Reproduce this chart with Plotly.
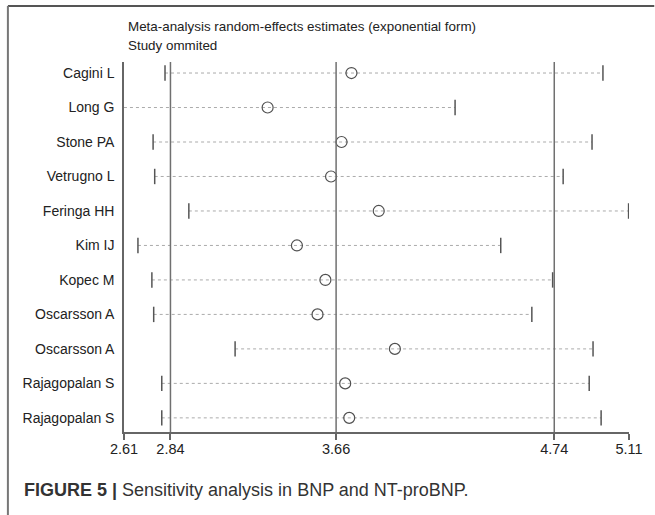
import plotly.graph_objects as go

studies = ["Cagini L", "Long G", "Stone PA", "Vetrugno L", "Feringa HH", "Kim IJ",
           "Kopec M", "Oscarsson A", "Oscarsson A", "Rajagopalan S", "Rajagopalan S"]
estimate = [3.736, 3.321, 3.687, 3.635, 3.871, 3.466, 3.607, 3.568, 3.951, 3.705, 3.725]
lower = [2.813, 2.58, 2.754, 2.762, 2.931, 2.679, 2.748, 2.757, 3.160, 2.797, 2.797]
upper = [4.981, 4.249, 4.927, 4.784, 5.108, 4.475, 4.732, 4.629, 4.932, 4.913, 4.972]
overall = [2.84, 3.66, 4.74]  # lower CI, combined estimate, upper CI
x_ticks = [2.61, 2.84, 3.66, 4.74, 5.11]
x_tick_labels = ["2.61", "2.84", "3.66", "4.74", "5.11"]

n = len(studies)
ypos = [n - i for i in range(n)]

FONT = "Liberation Sans, Arial, sans-serif"

fig = go.Figure()

# CI dotted lines
lx, ly = [], []
for lo, hi, y in zip(lower, upper, ypos):
    lx += [lo, hi, None]
    ly += [y, y, None]
fig.add_trace(go.Scatter(x=lx, y=ly, mode="lines",
                         line=dict(color="#ababab", width=1, dash="dot"),
                         hoverinfo="skip", showlegend=False))

# CI end caps
fig.add_trace(go.Scatter(x=lower + upper, y=ypos + ypos, mode="markers",
                         marker=dict(symbol="line-ns", size=11,
                                     line=dict(color="#555555", width=1.5)),
                         hoverinfo="skip", showlegend=False))

# estimates
fig.add_trace(go.Scatter(x=estimate, y=ypos, mode="markers",
                         marker=dict(symbol="circle-open", size=11,
                                     color="#505050", line=dict(color="#505050", width=1.2)),
                         showlegend=False))

shapes = []
for v in overall:
    shapes.append(dict(type="line", xref="x", yref="paper", x0=v, x1=v, y0=0, y1=1,
                       line=dict(color="#707070", width=1.5), layer="above"))

# outer frame (top and left)
shapes.append(dict(type="line", xref="paper", yref="paper",
                   x0=-0.2299, x1=1.05, y0=1.1514, y1=1.1514,
                   line=dict(color="#555555", width=2)))
shapes.append(dict(type="line", xref="paper", yref="paper",
                   x0=-0.2299, x1=-0.2299, y0=1.1514, y1=-0.23,
                   line=dict(color="#777777", width=2)))

annotations = [
    dict(text="Meta-analysis random-effects estimates (exponential form)",
         xref="paper", yref="paper", x=0.004, y=1.095, xanchor="left", yanchor="middle",
         showarrow=False, font=dict(family=FONT, size=13.4, color="#222222")),
    dict(text="Study ommited",
         xref="paper", yref="paper", x=0.004, y=1.044, xanchor="left", yanchor="middle",
         showarrow=False, font=dict(family=FONT, size=13.4, color="#222222")),
    dict(text="<b>FIGURE 5 |</b> Sensitivity analysis in BNP and NT-proBNP.",
         xref="paper", yref="paper", x=-0.2024, y=-0.157, xanchor="left", yanchor="middle",
         showarrow=False, font=dict(family=FONT, size=18, color="#333333")),
]

fig.update_layout(
    width=655, height=515,
    margin=dict(l=124, r=22, t=62, b=83),
    paper_bgcolor="white", plot_bgcolor="white",
    font=dict(family=FONT, size=14, color="#222222"),
    shapes=shapes, annotations=annotations,
    xaxis=dict(range=[2.61, 5.11], tickvals=x_ticks, ticktext=x_tick_labels,
               showline=True, linecolor="#666666", linewidth=1.5,
               ticks="outside", ticklen=6, tickcolor="#666666", tickwidth=1.5,
               ticklabelstandoff=-3,
               showgrid=False, zeroline=False,
               tickfont=dict(family=FONT, size=14.5, color="#222222")),
    yaxis=dict(range=[0.59, n + 0.32], tickvals=ypos, ticktext=studies,
               showline=True, linecolor="#666666", linewidth=1.5,
               ticks="", ticklen=0, ticklabelstandoff=5,
               showgrid=False, zeroline=False,
               tickfont=dict(family=FONT, size=14, color="#222222")),
)

fig.write_html("out.html", config={"displayModeBar": False},
               post_script="document.body.style.margin='0';document.body.style.overflow='hidden';")
